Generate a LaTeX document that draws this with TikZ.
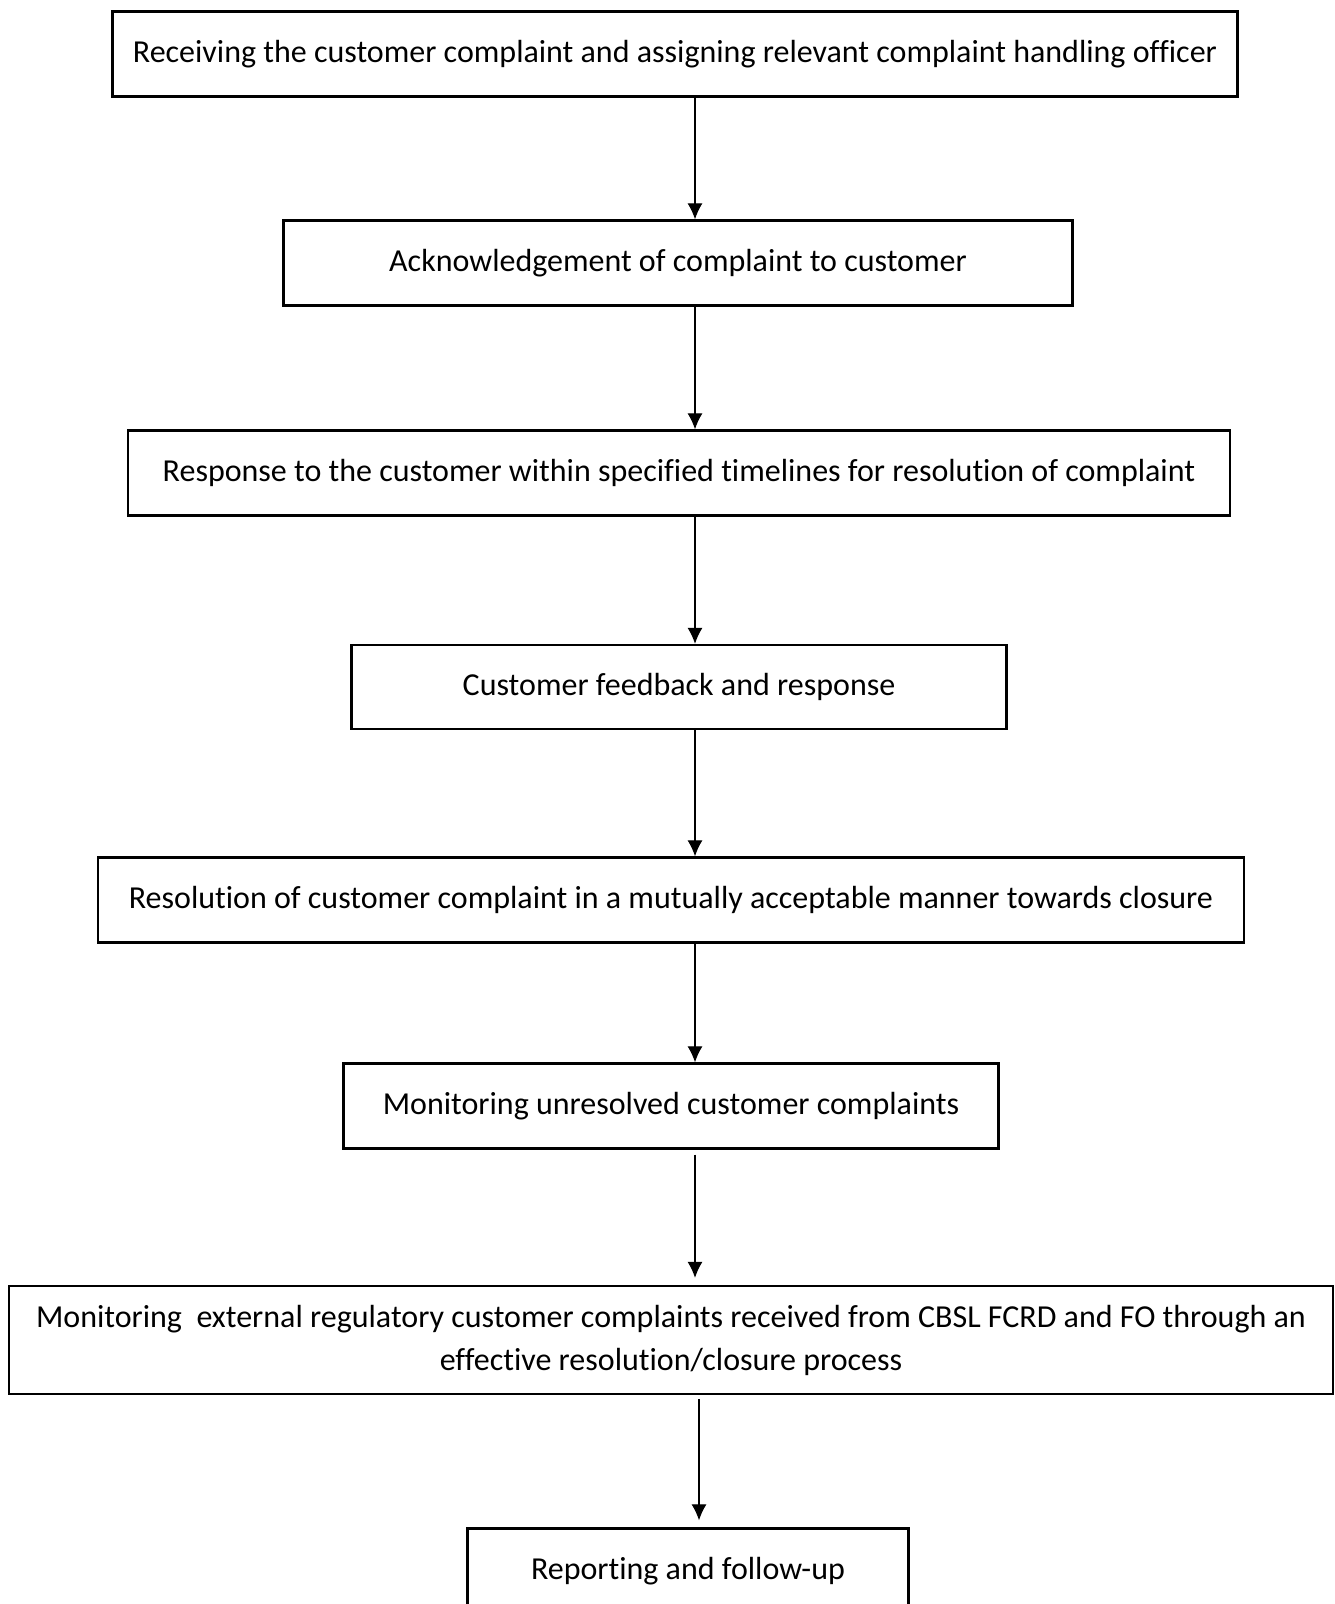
\documentclass[tikz,border=0pt]{standalone}
\usepackage{fontspec}
\setmainfont[Ligatures={NoCommon}]{Carlito}
\usepackage{tikz}
\usetikzlibrary{arrows.meta}

\begin{document}
\begin{tikzpicture}[x=1pt,y=-1pt]
    \tikzset{stage/.style = {shape=rectangle,draw,line width=2.4pt,inner sep=0pt,align=center,font=\fontsize{32}{43}\selectfont}}
    \tikzset{edge/.style = {->,line width=1.1pt,> = {Latex[length=16pt,width=15pt]}}}

    \clip (0,0) rectangle (1334,1604);

    % stages

    \node[stage,minimum width=1125pt,minimum height=85pt] (recv) at (675,54) {Receiving the customer complaint and assigning relevant complaint handling officer};
    \node[stage,minimum width=789pt,minimum height=85pt] (ack) at (678,263) {Acknowledgement of complaint to customer};
    \node[stage,minimum width=1102pt,minimum height=85pt] (resp) at (679,473) {Response to the customer within specified timelines for resolution of complaint};
    \node[stage,minimum width=655pt,minimum height=84pt] (feed) at (679,687) {Customer feedback and response};
    \node[stage,minimum width=1146pt,minimum height=85pt] (resol) at (671,900) {Resolution of customer complaint in a mutually acceptable manner towards closure};
    \node[stage,minimum width=655pt,minimum height=85pt] (unres) at (671,1106) {Monitoring unresolved customer complaints};
    \node[stage,minimum width=1324pt,minimum height=108pt] (extern) at (671,1340) {Monitoring\ \ external regulatory customer complaints received from CBSL FCRD and FO through an\\effective resolution/closure process};
    \node[stage,minimum width=441pt,minimum height=85pt] (report) at (688,1571) {Reporting and follow-up};

    \coordinate (ax) at (695,0);
    \coordinate (bx) at (699,0);

    % arrows
    \draw[edge] (recv.south -| ax) to (ack.north -| ax);
    \draw[edge] (ack.south -| ax) to (resp.north -| ax);
    \draw[edge] (resp.south -| ax) to (feed.north -| ax);
    \draw[edge] (feed.south -| ax) to (resol.north -| ax);
    \draw[edge] (resol.south -| ax) to (unres.north -| ax);
    \draw[edge,shorten <=5pt,shorten >=7pt] (unres.south -| ax) to (extern.north -| ax);
    \draw[edge,shorten <=4pt,shorten >=7pt] (extern.south -| bx) to (report.north -| bx);
\end{tikzpicture}
\end{document}
